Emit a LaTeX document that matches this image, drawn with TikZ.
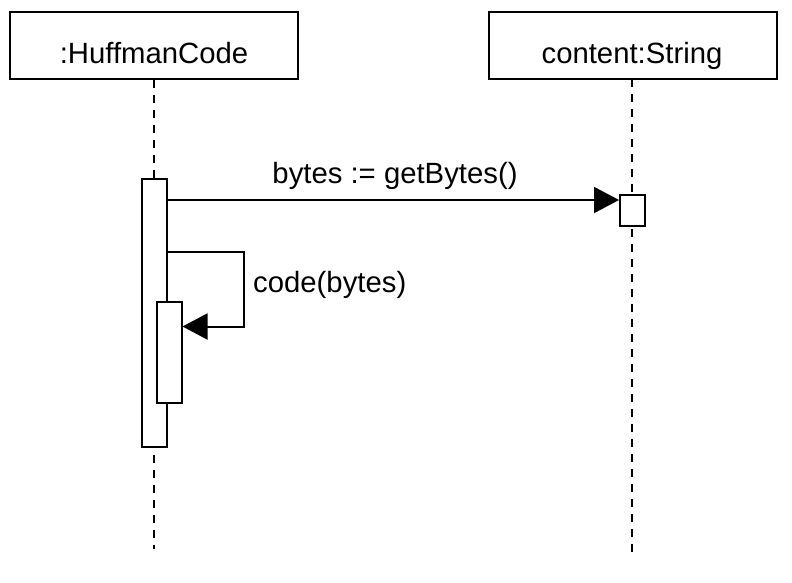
\documentclass[tikz,border=0pt]{standalone}
\usepackage{fontspec}
\setmainfont{Liberation Sans}
\usetikzlibrary{arrows.meta}
\begin{document}
\begin{tikzpicture}[x=1pt,y=-1pt,
  every node/.style={font=\fontsize{29.3}{35}\selectfont},
  objbox/.style={draw,line width=2pt,fill=white,minimum width=288pt,minimum height=67pt,inner sep=0pt},
  actbox/.style={draw,line width=2pt,fill=white,minimum width=25pt,inner sep=0pt},
  lifeline/.style={line width=2pt,dash pattern=on 7.5pt off 7.5pt},
  msg/.style={line width=2pt,-{Triangle[length=25pt,width=26pt]}},
  lbl/.style={anchor=base,inner sep=0pt}]
\useasboundingbox (0,0) rectangle (792,582);
\node[objbox] (huff) at (154,45.5) {};
\node[objbox] (str) at (633,45.5) {};
\node[lbl] (huffname) at (154,63) {:HuffmanCode};
\node[lbl] (strname) at (632,63) {content:String};
\coordinate (huffend) at (154,549);
\coordinate (strend) at (632,553);
\draw[lifeline] (huff.south) -- (huffend);
\draw[lifeline] (632,79) -- (strend);
\node[actbox,minimum height=268pt] (act1) at (154,313) {};
\node[actbox,minimum height=101pt] (act2) at (169,352) {};
\node[actbox,minimum height=31pt] (act3) at (632.5,210) {};
\draw[msg] (act1.east |- 0,200) -- (act3.west |- 0,200);
\node[lbl] (l1) at (395,183) {bytes := getBytes()};
\coordinate (sc1) at (244,252);
\coordinate (sc2) at (244,326.5);
\draw[msg] (act1.east |- sc1) -- (sc1) -- (sc2) -- (act2.east |- sc2);
\node[lbl,anchor=base west] (l2) at (253,292) {code(bytes)};
\end{tikzpicture}
\end{document}
